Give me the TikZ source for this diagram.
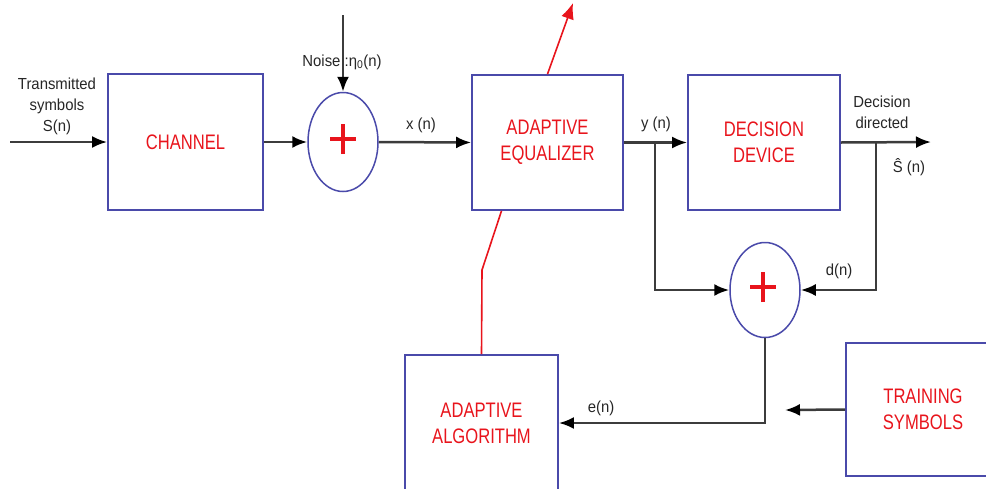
\documentclass[tikz,border=0pt]{standalone}
\usepackage{fontspec}
\setmainfont{Liberation Sans}
\newfontfamily\blockfont[FakeStretch=0.79]{Liberation Sans}
\newfontfamily\labelfont[FakeStretch=0.93]{Liberation Sans}
\usetikzlibrary{arrows.meta,shapes.geometric}
\definecolor{boxblue}{HTML}{4A4AAA}
\definecolor{txtred}{HTML}{E8141C}
\definecolor{wiregray}{HTML}{3C3C3C}
\begin{document}
\begin{tikzpicture}[x=1pt,y=-1pt,
    block/.style={draw=boxblue, line width=1.8pt, rectangle, text=txtred, align=center,
        font=\blockfont\fontsize{21}{26}\selectfont, inner sep=0pt},
    adder/.style={draw=boxblue, line width=1.5pt, ellipse, inner sep=0pt, minimum width=70pt},
    plus/.style={txtred, line width=3.5pt},
    wire/.style={wiregray, line width=2.5pt, -{Latex[length=15pt,width=12pt,black]}},
    redwire/.style={txtred, line width=1.6pt},
    lbl/.style={text=black!85, align=center, font=\labelfont\fontsize{16}{21}\selectfont, inner sep=0pt}]
    \useasboundingbox (0,0) rectangle (986,488);
    % blocks
    \node[block, minimum width=155pt, minimum height=136pt] (chan) at (185.5,142) {CHANNEL};
    \node[block, minimum width=151pt, minimum height=135pt] (eq) at (547.5,142.5) {ADAPTIVE\\EQUALIZER};
    \node[block, minimum width=152pt, minimum height=135pt] (dec) at (764,142.5) {DECISION\\DEVICE};
    \node[block, minimum width=153pt, minimum height=136pt] (alg) at (481.5,423) {ADAPTIVE\\ALGORITHM};
    \node[block, minimum width=154pt, minimum height=133pt] (train) at (923,409.5) {TRAINING\\SYMBOLS};
    % adders
    \node[adder, minimum height=99pt] (add1) at (343,142) {};
    \node[adder, minimum height=95pt] (add2) at (765,290) {};
    \foreach \a/\dx/\dy in {add1/0/3, add2/-2/3} {
        \draw[plus] ([xshift=\dx pt-13pt, yshift=\dy pt]\a.center) -- ([xshift=\dx pt+13pt, yshift=\dy pt]\a.center);
        \draw[plus] ([xshift=\dx pt, yshift=\dy pt-15pt]\a.center) -- ([xshift=\dx pt, yshift=\dy pt+15pt]\a.center);
    }
    % free ends and junctions
    \coordinate (sin) at (10,142);
    \coordinate (noise) at (343,15);
    \coordinate (sout) at (931,142);
    \coordinate (jy) at (655,142);
    \coordinate (jd) at (876,142);
    \coordinate (tend) at (785,410);
    \coordinate (redtip) at (573,3);
    \coordinate (bend) at (482,270);
    % forward path
    \draw[wire] (sin) -- (chan.west);
    \draw[wire] (chan.east) -- (add1.west);
    \draw[wire] (noise) -- (add1.north);
    \draw[wire] (add1.east) -- (eq.west);
    \draw[wire] (eq.east) -- (dec.west);
    \draw[wire] (dec.east) -- (sout);
    % error path
    \draw[wire] (jy) |- (add2.west);
    \draw[wire] (jd) |- (add2.east);
    \draw[wire] (add2.south) |- (alg.east);
    \draw[wire] (train.west) -- (tend);
    % adaptation (red)
    \draw[redwire, -{Latex[length=16pt,width=13pt]}] (eq.north) -- (redtip);
    \draw[redwire] ([xshift=-46pt]eq.south) -- (bend) -- (alg.north);
    % labels
    \node[lbl] (tx) at (57,106) {Transmitted\\symbols\\S(n)};
    \node[lbl] (noiselbl) at (342,62) {Noise :η\textsubscript{0}(n)};
    \node[lbl] (xn) at (421,125) {x (n)};
    \node[lbl] (yn) at (656,124) {y (n)};
    \node[lbl] (dd) at (882,112) {Decision\\directed};
    \node[lbl] (shat) at (909,167) {Ŝ (n)};
    \node[lbl] (dn) at (839,271) {d(n)};
    \node[lbl] (en) at (601,408) {e(n)};
\end{tikzpicture}
\end{document}
